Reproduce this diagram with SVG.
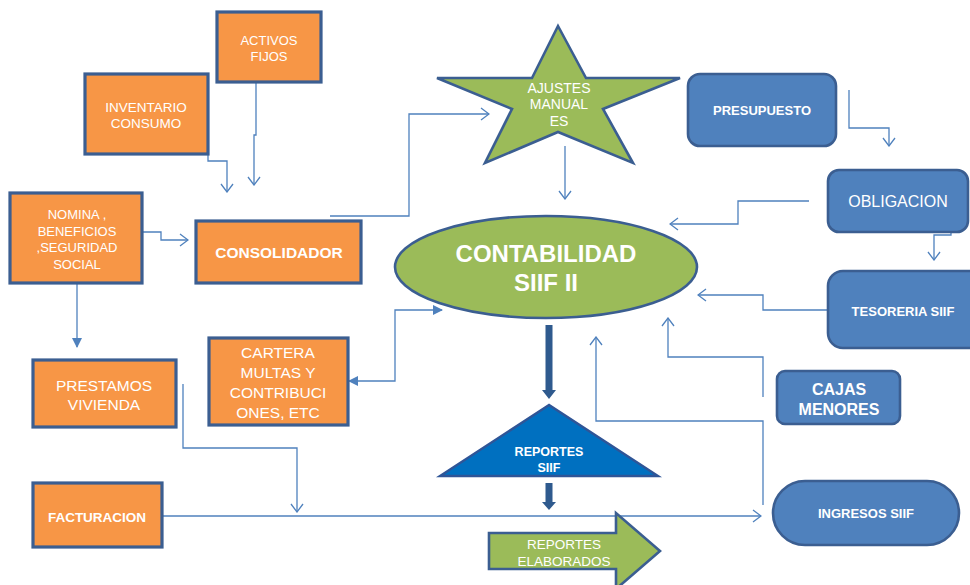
<svg xmlns="http://www.w3.org/2000/svg" width="970" height="585" viewBox="0 0 970 585">
<defs>
<style>
.org{fill:#F79646;stroke:#3B5E91;stroke-width:3.2}
.blu{fill:#4F81BD;stroke:#3B5E91;stroke-width:2.6}
.grn{fill:#9BBB59;stroke:#3B5E91;stroke-width:2.6}
.t{font-family:"Liberation Sans",Arial,sans-serif;fill:#FFFFFF;text-anchor:middle}
.b{font-weight:bold}
.c{fill:none;stroke:#4F81BD;stroke-width:1.3}
.thick{fill:#2F5A8E}
</style>
<marker id="open" viewBox="0 0 10 14" refX="9" refY="7" markerWidth="10" markerHeight="14" markerUnits="userSpaceOnUse" orient="auto">
<path d="M1,1 L9,7 L1,13" fill="none" stroke="#4F81BD" stroke-width="1.3"/>
</marker>
<marker id="fill" viewBox="0 0 10 10" refX="9" refY="5" markerWidth="10" markerHeight="10" markerUnits="userSpaceOnUse" orient="auto-start-reverse">
<path d="M0,0 L10,5 L0,10 z" fill="#4F81BD"/>
</marker>
</defs>
<rect width="970" height="585" fill="#FFFFFF"/>

<g id="connectors">
<polyline class="c" points="208,130 208,161 227,161 227,192" marker-end="url(#open)"/>
<polyline class="c" points="256,82 256,135 254,135 254,185" marker-end="url(#open)"/>
<polyline class="c" points="133,232 161,232 161,240 188,240" marker-end="url(#open)"/>
<polyline class="c" points="330,216 409,216 409,114 489,114" marker-end="url(#open)"/>
<line class="c" x1="565" y1="146" x2="565" y2="199" marker-end="url(#open)"/>
<polyline class="c" points="849,90 849,128 889,128 889,146" marker-end="url(#open)"/>
<polyline class="c" points="809,201 738,201 738,224 670,224" marker-end="url(#open)"/>
<polyline class="c" points="951,212 951,235 934,235 934,260" marker-end="url(#open)"/>
<polyline class="c" points="828,310 763,310 763,295 698,295" marker-end="url(#open)"/>
<polyline class="c" points="763,397 763,357 668,357 668,318" marker-end="url(#open)"/>
<polyline class="c" points="763,505 763,421 596,421 596,337" marker-end="url(#open)"/>
<line class="c" x1="77" y1="283" x2="77" y2="347" marker-end="url(#fill)"/>
<polyline class="c" points="349,381 395,381 395,310 442,310" marker-start="url(#fill)" marker-end="url(#fill)"/>
<polyline class="c" points="183,384 183,448 297,448 297,512" marker-end="url(#open)"/>
<line class="c" x1="161" y1="516" x2="761" y2="516" marker-end="url(#open)"/>
<path class="thick" d="M545.5,325 H552.5 V390 H556 L549,399 L542,390 H545.5 Z"/>
<path class="thick" d="M545.5,483 H552.5 V502 H556 L549,510 L542,502 H545.5 Z"/>
</g>

<g id="activos-fijos">
<rect class="org" x="217" y="12" width="104" height="70"/>
<text class="t" font-size="13" x="269" y="45">ACTIVOS</text>
<text class="t" font-size="13" x="269" y="61">FIJOS</text>
</g>

<g id="inventario-consumo">
<rect class="org" x="85" y="74" width="123" height="80"/>
<text class="t" font-size="13.5" x="146" y="112">INVENTARIO</text>
<text class="t" font-size="13.5" x="146" y="128">CONSUMO</text>
</g>

<g id="nomina">
<rect class="org" x="10" y="193" width="132" height="90"/>
<text class="t" font-size="13" x="77" y="219">NOMINA ,</text>
<text class="t" font-size="13" x="77" y="236">BENEFICIOS</text>
<text class="t" font-size="13" x="77" y="252">,SEGURIDAD</text>
<text class="t" font-size="13" x="77" y="269">SOCIAL</text>
</g>

<g id="consolidador">
<rect class="org" x="196" y="221" width="165" height="62"/>
<text class="t b" font-size="15.5" x="279" y="257.5">CONSOLIDADOR</text>
</g>

<g id="ajustes-manuales">
<polygon class="grn" points="558,26 586,78 680,78 603,109 633,163 558,132 485,163 512,109 437,78 532,78"/>
<text class="t" font-size="14" x="559" y="93">AJUSTES</text>
<text class="t" font-size="14" x="559" y="109">MANUAL</text>
<text class="t" font-size="14" x="559" y="126">ES</text>
</g>

<g id="presupuesto">
<rect class="blu" x="688" y="74" width="148" height="72" rx="12"/>
<text class="t b" font-size="13" x="762" y="115">PRESUPUESTO</text>
</g>

<g id="obligacion">
<rect class="blu" x="828" y="170" width="140" height="62" rx="11"/>
<text class="t" font-size="16" x="898" y="207">OBLIGACION</text>
</g>

<g id="tesoreria-siif">
<rect class="blu" x="828" y="271" width="160" height="77" rx="15"/>
<text class="t b" font-size="13" x="903" y="316">TESORERIA SIIF</text>
</g>

<g id="contabilidad-siif">
<ellipse class="grn" cx="546" cy="267" rx="151" ry="51"/>
<text class="t b" font-size="24" x="546" y="261.5">CONTABILIDAD</text>
<text class="t b" font-size="24" x="546" y="291">SIIF II</text>
</g>

<g id="cajas-menores">
<rect class="blu" x="777" y="371" width="123" height="53" rx="8"/>
<text class="t b" font-size="16" x="839" y="395">CAJAS</text>
<text class="t b" font-size="16" x="839" y="415">MENORES</text>
</g>

<g id="ingresos-siif">
<rect class="blu" x="773" y="481" width="186" height="64" rx="32"/>
<text class="t b" font-size="13" x="866" y="518">INGRESOS SIIF</text>
</g>

<g id="cartera">
<rect class="org" x="209" y="338" width="139" height="87"/>
<text class="t" font-size="15.5" x="278" y="357.5">CARTERA</text>
<text class="t" font-size="15.5" x="278" y="377.5">MULTAS Y</text>
<text class="t" font-size="15.5" x="278" y="397.5">CONTRIBUCI</text>
<text class="t" font-size="15.5" x="278" y="417.5">ONES, ETC</text>
</g>

<g id="prestamos-vivienda">
<rect class="org" x="33" y="360" width="143" height="67"/>
<text class="t" font-size="15.5" x="104" y="391">PRESTAMOS</text>
<text class="t" font-size="15.5" x="104" y="410">VIVIENDA</text>
</g>

<g id="facturacion">
<rect class="org" x="33" y="483" width="129" height="64"/>
<text class="t b" font-size="13.5" x="97" y="522">FACTURACION</text>
</g>

<g id="reportes-siif">
<polygon points="549,405 440,476 658,476" fill="#0070C0" stroke="#2F5597" stroke-width="2.4"/>
<text class="t b" font-size="12.5" x="549" y="455.5">REPORTES</text>
<text class="t b" font-size="12.5" x="549" y="472">SIIF</text>
</g>

<g id="reportes-elaborados">
<polygon class="grn" points="489,533 616,533 616,513 660,551 616,589 616,569 489,569"/>
<text class="t" font-size="13.5" x="564" y="549">REPORTES</text>
<text class="t" font-size="13.5" x="564" y="566">ELABORADOS</text>
</g>
</svg>
